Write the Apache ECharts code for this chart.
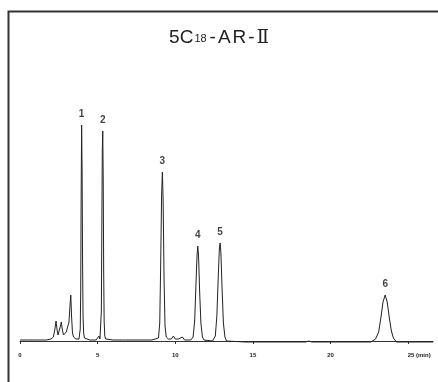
<!DOCTYPE html>
<html>
<head>
<meta charset="utf-8">
<script src="https://cdn.jsdelivr.net/npm/echarts@6/dist/echarts.min.js"></script>
<style>
  html, body { margin: 0; padding: 0; background: #fff; }
  #chart { width: 438px; height: 382px; }
</style>
</head>
<body>
<div id="chart"></div>
<script>
// retention time (min) and detector signal
var times = [
  0.0, 0.5, 0.95, 1.03, 1.1, 1.55, 1.6, 1.7, 2.0, 2.15, 2.25, 2.32, 2.38, 2.45, 2.55, 2.62, 2.66, 2.72,
  2.80, 2.88, 2.98, 3.08, 3.15, 3.22, 3.27, 3.32, 3.38, 3.45, 3.60, 3.80, 3.85, 3.88, 3.91, 3.94, 3.97,
  4.00, 4.03, 4.06, 4.10, 4.15, 4.20, 4.50, 4.90, 5.00, 5.09, 5.15, 5.20, 5.24, 5.27, 5.30, 5.33, 5.36,
  5.39, 5.42, 5.46, 5.52, 6.00, 6.60, 6.70, 6.80, 8.50, 8.92, 9.00, 9.06, 9.12, 9.17, 9.22, 9.28, 9.34,
  9.42, 9.55, 9.75, 9.88, 10.0, 10.2, 10.30, 10.46, 10.6, 11.0, 11.15, 11.25, 11.33, 11.40, 11.45, 11.50,
  11.57, 11.65, 11.75, 11.85, 12.40, 12.58, 12.68, 12.77, 12.84, 12.89, 12.94, 13.01, 13.10, 13.20, 13.30,
  14.5, 14.75, 14.85, 15.0, 18.4, 18.6, 18.8, 22.6, 22.9, 23.1, 23.25, 23.38, 23.52, 23.65, 23.78, 23.92,
  24.05, 24.25, 26.6
];
var signal = [
  1, 1, 1, 2, 1, 1, 2, 1, 2, 4, 12, 20, 12, 6, 8, 16, 19, 12,
  6, 5, 9, 15, 18, 35, 46, 25, 8, 4, 2, 2, 4, 12, 50, 150, 216,
  170, 80, 25, 8, 3, 2, 1, 1, 2, 5, 2, 3, 30, 110, 190, 210, 160,
  70, 20, 5, 2, 1, 1, 2, 1, 1, 3, 18, 75, 145, 169, 140, 60, 15,
  4, 2, 2, 5, 2, 2, 2, 4, 1, 1, 4, 20, 55, 85, 95, 85,
  50, 18, 4, 1, 0, 5, 25, 65, 92, 98, 88, 55, 18, 4, 0,
  -1, -1, 1, -1, -1, 0, -1, -1, 2, 9, 24, 39, 46, 39, 24, 10,
  3, -1, -1
];
// numbered peaks
var peakTimes = [3.97, 5.33, 9.17, 11.45, 12.89, 23.52];
var peakHeights = [216, 210, 169, 95, 98, 46];
var peakNames = ['1', '2', '3', '4', '5', '6'];
var xTicks = [0, 5, 10, 15, 20, 25];

var chart = echarts.init(document.getElementById('chart'));

var trace = times.map(function (t, i) { return [t, signal[i]]; });
var peaks = peakTimes.map(function (t, i) {
  return { value: [t, peakHeights[i]], name: peakNames[i] };
});

var titleFont = 'Liberation Sans';

var option = {
  animation: false,
  backgroundColor: '#fff',
  title: {
    left: 'center',
    top: 22,
    text: '{a|5C}{s|18}{d|-}{a|A}{b|R}{d|-}{r|Ⅱ}',
    textStyle: {
      fontWeight: 'normal',
      rich: {
        a: { fontSize: 19, lineHeight: 22, color: '#222', fontFamily: titleFont },
        b: { fontSize: 19, lineHeight: 22, color: '#222', fontFamily: titleFont, padding: [0, 0, 0, 2] },
        d: { fontSize: 19, lineHeight: 22, color: '#222', fontFamily: titleFont, padding: [0, 2, 0, 2] },
        r: { fontSize: 18, lineHeight: 22, color: '#222', fontFamily: 'DejaVu Serif' },
        s: { fontSize: 11, lineHeight: 18, color: '#222', fontFamily: titleFont, padding: [2, 1, 0, 1] }
      }
    }
  },
  graphic: [{
    type: 'rect',
    left: 6,
    top: 9,
    shape: { width: 500, height: 500 },
    style: { fill: 'none', stroke: '#333', lineWidth: 2 },
    silent: true
  }],
  grid: { left: 20, right: 5, top: 111, bottom: 33 },
  xAxis: {
    type: 'value',
    min: 0,
    max: 26.6,
    interval: 5,
    splitLine: { show: false },
    axisLine: { lineStyle: { color: '#333', width: 1 } },
    axisTick: { length: 3, lineStyle: { color: '#333' } },
    axisLabel: {
      margin: 3,
      fontSize: 6,
      fontWeight: 'bold',
      color: '#222',
      fontFamily: 'Liberation Sans',
      showMaxLabel: false,
      formatter: function (v) {
        if (xTicks.indexOf(v) < 0) return '';
        if (v === 25) return '{m|25 (min)}';
        return String(v);
      },
      rich: {
        m: { fontSize: 6, fontWeight: 'bold', color: '#222', fontFamily: 'Liberation Sans', padding: [0, 0, 0, 22] }
      }
    }
  },
  yAxis: {
    type: 'value',
    min: -8,
    max: 230,
    show: false
  },
  series: [{
    type: 'line',
    data: trace,
    showSymbol: false,
    lineStyle: { color: '#222', width: 1 },
    silent: true
  }, {
    type: 'scatter',
    data: peaks,
    symbolSize: 0,
    silent: true,
    label: {
      show: true,
      position: 'top',
      distance: 6,
      formatter: '{b}',
      fontSize: 10,
      fontWeight: 'bold',
      color: '#111',
      fontFamily: 'Liberation Sans'
    }
  }]
};

chart.setOption(option);
</script>
</body>
</html>
